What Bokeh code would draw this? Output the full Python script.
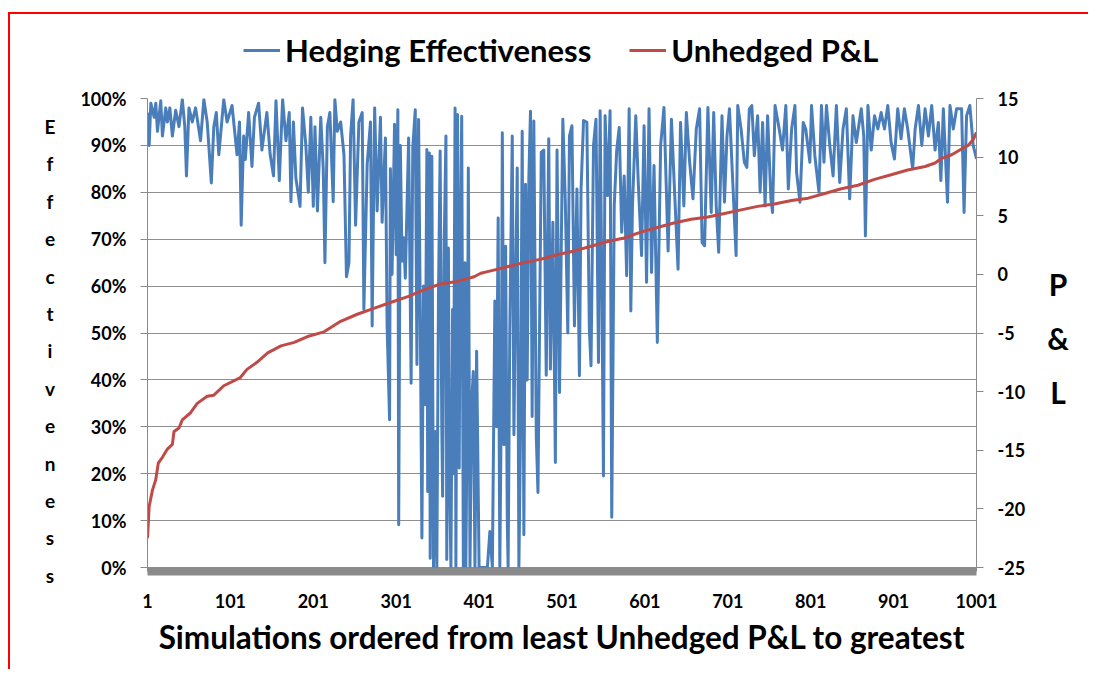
from bokeh.plotting import figure
from bokeh.layouts import row, column
from bokeh.models import (Range1d, LinearAxis, FixedTicker, NumeralTickFormatter,
                          Legend, LegendItem, Div)
from bokeh.embed import file_html
from bokeh.resources import INLINE

# ---------------- data ----------------
# Hedging effectiveness (%), sampled at the visible turning points, in three stretches
he_sim_a = [1, 3, 5, 9, 11, 13, 17, 19, 23, 25,
            28, 31, 35, 39, 43, 46, 48, 51, 55, 59,
            65, 69, 73, 78, 81, 84, 87, 93, 97, 103,
            109, 112, 114, 117, 119, 123, 127, 130, 135, 139,
            145, 149, 153, 156, 160, 164, 168, 172, 174, 177,
            180, 185, 188, 192, 195, 198, 201, 203, 206, 210,
            213, 215, 218, 221, 225, 227, 230, 234, 238, 241,
            244, 246, 249, 252, 256, 260, 262, 266, 270, 272,
            275, 278, 282, 284]
he_pct_a = [97, 90, 99, 96, 99, 93, 99.5, 92, 98, 95,
            98, 92, 97.5, 94, 99.8, 94, 83.5, 98, 95, 98,
            91, 99.8, 95, 82, 94, 97, 88, 99.8, 95, 98.5,
            88, 95, 73, 92, 87, 97, 85.5, 96, 99, 89,
            97, 88, 83.5, 99.5, 82.5, 99.8, 91, 97, 78, 95,
            83, 77, 98, 90, 80, 96, 77, 94, 76, 96,
            85, 65, 94, 97, 78, 99.8, 93, 95, 88, 62,
            65, 92, 99.8, 73, 95, 97, 55, 86, 95, 51.5,
            98, 76, 96, 73.6]

he_sim_b = [288, 290, 293, 294, 296, 299, 301, 303, 304, 306,
            308, 310, 312, 316, 319, 321, 324, 326, 328, 330,
            332, 334, 336, 338, 339, 341, 342, 344, 346, 348,
            350, 352, 354, 356, 357, 359, 361, 362, 364, 365,
            367, 369, 370, 372, 373, 375, 377, 378, 380, 382,
            384, 385, 387, 388, 390, 392, 394, 396, 398, 401,
            407, 411, 414, 417, 420, 422, 424, 426, 428, 429,
            431, 433, 435, 436, 438, 441, 443, 445, 447, 449,
            451, 453, 455, 457, 459, 461, 463, 465, 467, 470,
            472]
he_pct_b = [91.6, 51.8, 31.5, 85, 62.5, 94.5, 66.7, 97.6, 9.1, 90,
            65.3, 70.3, 61.7, 91.6, 39.3, 89.5, 97.6, 43.3, 95.5, 54.6,
            6.3, 60, 34.7, 89.1, 16.2, 88.4, 2, 87.7, 0, 29,
            0, 58.2, 88.8, 30, 15.2, 70, 92, 1.7, 68.1, 25,
            0, 55, 20, 98, 0, 96.6, 21.2, 60, 96.2, 0,
            65, 0, 40, 85.2, 0, 35, 41.8, 0, 46.1, 0,
            0, 0, 7.7, 0, 56.8, 30, 74.5, 0, 40, 92.7,
            26.2, 68.5, 10, 0, 50, 92, 28.3, 60, 85.2, 0,
            29.7, 93, 7, 81.7, 40, 83.1, 97.3, 32.2, 95.2, 28,
            16]

he_sim_c = [476, 479, 482, 485, 487,
            490, 493, 495, 498, 502, 505, 508, 510, 513, 516,
            519, 522, 524, 527, 531, 534, 536, 539, 542, 545,
            547, 549, 551, 553, 556, 559, 561, 564, 567, 570,
            573, 576, 579, 582, 584, 586, 590, 593, 597, 600,
            603, 606, 609, 612, 616, 620, 624, 629, 633, 637,
            641, 644, 648, 651, 655, 659, 663, 667, 670, 673,
            677, 681, 684, 687, 690, 694, 697, 700, 703, 707,
            711, 713, 717, 721, 724, 727, 730, 733, 737, 740,
            743, 746, 749, 753, 755, 758, 763, 767, 771, 774,
            778, 782, 784, 788, 792, 795, 800, 802, 806, 811,
            814, 817, 820, 824, 828, 832, 836, 840, 844, 848,
            852, 856, 862, 865, 867, 870, 874, 878, 882, 886,
            890, 894, 898, 902, 906, 910, 914, 918, 924, 927,
            931, 935, 939, 943, 947, 951, 955, 958, 961, 966,
            969, 973, 977, 983, 986, 989, 993, 997, 1001]
he_pct_c = [88.5, 89, 41, 91.4, 42.3,
            73.6, 22.4, 89, 37.3, 95.6, 77.9, 50, 92, 94.2, 51.5,
            80.7, 40.9, 80.7, 95.3, 94.9, 50.8, 43, 90, 95.6, 43.7,
            97.4, 60.8, 19.5, 96.3, 79.3, 97.4, 10.7, 77.1, 89, 93.8,
            71.5, 83.5, 62.2, 97.8, 54.7, 77.1, 96.3, 82.1, 66.5, 94.2,
            60.8, 97.8, 62.9, 85.7, 48, 90, 98.1, 67.5, 95.6, 79.3,
            63.6, 94.9, 77.1, 97, 86.4, 78.6, 93.5, 97.8, 69.3, 68.6,
            98.1, 75.7, 97, 77.1, 67.2, 96.3, 77.9, 92, 97.8, 82.1,
            66.5, 98.5, 93.5, 86.4, 85.3, 97.8, 98.5, 87.8, 96.3, 80,
            94.9, 77.1, 96.3, 78.6, 75.7, 98.5, 93.5, 89, 98.5, 80.7,
            93.5, 98.5, 84.2, 77.9, 94.9, 93.5, 86.4, 98.5, 87.8, 80,
            98.5, 86.4, 98.5, 90, 83.5, 98.5, 82.1, 93.5, 97.8, 78.6,
            96.3, 90.6, 97.8, 92, 70.7, 98.5, 89, 96.3, 93.5, 97,
            93.5, 98.5, 90.6, 87.1, 97.8, 91.4, 97.8, 93.5, 85, 93.5,
            98.5, 90, 97.8, 92, 98.5, 89, 94.9, 82.5, 97.8, 77.9,
            98.5, 93.5, 97.8, 97.8, 75.7, 96.3, 98.5, 90, 87.1]

# Unhedged P&L (sorted ascending)
pnl_sim = [1, 3, 7, 11, 14, 19, 25, 31, 33, 39,
           43, 53, 61, 73, 81, 93, 113, 121, 133, 146,
           162, 178, 194, 214, 234, 254, 274, 294, 315, 335,
           355, 375, 395, 403, 415, 435, 455, 476, 496, 516,
           536, 556, 576, 596, 616, 637, 657, 677, 697, 717,
           737, 757, 778, 798, 818, 838, 858, 878, 898, 918,
           939, 951, 959, 971, 983, 991, 997, 1001]
pnl_val = [-22.5, -19.8, -18.4, -17.5, -16.1, -15.6, -14.9, -14.5, -13.4, -13.1,
           -12.4, -11.8, -11.0, -10.4, -10.3, -9.5, -8.8, -8.1, -7.5, -6.7,
           -6.1, -5.8, -5.3, -4.9, -4.0, -3.4, -2.9, -2.4, -1.9, -1.3,
           -0.8, -0.6, -0.2, 0.1, 0.3, 0.65, 1.0, 1.3, 1.7, 2.0,
           2.4, 2.8, 3.1, 3.6, 4.0, 4.4, 4.7, 4.9, 5.2, 5.5,
           5.8, 6.0, 6.3, 6.5, 6.9, 7.3, 7.6, 8.1, 8.5, 8.9,
           9.2, 9.5, 9.9, 10.2, 10.7, 11.0, 11.5, 12.1]

x_ticks = [1, 101, 201, 301, 401, 501, 601, 701, 801, 901, 1001]
pct_ticks = [0.0, 0.1, 0.2, 0.3, 0.4, 0.5, 0.6, 0.7, 0.8, 0.9, 1.0]
pnl_ticks = [-25, -20, -15, -10, -5, 0, 5, 10, 15]

series_names = ["Hedging Effectiveness", "Unhedged P&L"]
left_title = "Effectiveness"
right_title = "P&L"
x_title = "Simulations ordered from least Unhedged P&L to greatest"

he_x, he_y = [], []
for xs, ys in ((he_sim_a, he_pct_a), (he_sim_b, he_pct_b), (he_sim_c, he_pct_c)):
    n = min(len(xs), len(ys))
    he_x += xs[:n]
    he_y += [v / 100.0 for v in ys[:n]]

# ---------------- styling ----------------
FONT = "Lato"
BLUE = "#4A7EBB"
RED = "#BE4B48"
GRID = "#8E8E8E"
AXIS = "#8A8A8A"
TOP_H = 72
MAIN_H = 583

# ---------------- main chart ----------------
p = figure(width=963, height=MAIN_H, output_backend="svg", toolbar_location=None,
           x_range=Range1d(1, 1001), y_range=Range1d(-0.0085, 1.0),
           min_border_left=75, min_border_right=59,
           min_border_top=12, min_border_bottom=98)
p.extra_y_ranges = {"pnl": Range1d(-25.34, 15)}
p.outline_line_color = None
p.background_fill_color = "white"
p.border_fill_color = "white"

p.xgrid.visible = False
p.ygrid.ticker = FixedTicker(ticks=pct_ticks)
p.ygrid.grid_line_color = GRID
p.ygrid.grid_line_width = 1

xa = p.xaxis[0]
xa.ticker = FixedTicker(ticks=x_ticks)
xa.axis_line_width = 8
xa.axis_line_color = AXIS
xa.major_tick_in = 0
xa.major_tick_out = 0
xa.minor_tick_line_color = None
xa.major_label_standoff = 22
xa.major_label_text_font = FONT
xa.major_label_text_font_style = "bold"
xa.major_label_text_font_size = "18px"
xa.major_label_text_color = "black"
xa.axis_label = x_title
xa.axis_label_text_font = FONT
xa.axis_label_text_font_style = "bold"
xa.axis_label_text_font_size = "31.5px"
xa.axis_label_text_color = "black"
xa.axis_label_standoff = 7

ya = p.yaxis[0]
ya.ticker = FixedTicker(ticks=pct_ticks)
ya.formatter = NumeralTickFormatter(format="0%")
ya.axis_line_color = AXIS
ya.major_tick_line_color = AXIS
ya.major_tick_in = 0
ya.major_tick_out = 7
ya.minor_tick_line_color = None
ya.major_label_standoff = 14
ya.major_label_text_font = FONT
ya.major_label_text_font_style = "bold"
ya.major_label_text_font_size = "18px"
ya.major_label_text_color = "black"

ra = LinearAxis(y_range_name="pnl", ticker=FixedTicker(ticks=pnl_ticks),
                formatter=NumeralTickFormatter(format="0"))
ra.axis_line_color = AXIS
ra.major_tick_line_color = AXIS
ra.major_tick_in = 0
ra.major_tick_out = 7
ra.minor_tick_line_color = None
ra.major_label_standoff = 14
ra.major_label_text_font = FONT
ra.major_label_text_font_style = "bold"
ra.major_label_text_font_size = "18px"
ra.major_label_text_color = "black"
p.add_layout(ra, "right")

p.line(x=he_x, y=he_y, line_color=BLUE, line_width=3, line_join="round")
p.line(x=pnl_sim, y=pnl_val, y_range_name="pnl", line_color=RED,
       line_width=3, line_join="round")

# ---------------- legend strip (top) ----------------
tf = figure(width=1078, height=TOP_H, output_backend="svg", toolbar_location=None,
            x_axis_type=None, y_axis_type=None, min_border=0,
            x_range=Range1d(0, 1078), y_range=Range1d(0, TOP_H))
tf.outline_line_color = None
tf.background_fill_color = "white"
tf.border_fill_color = "white"
# legend keys (drawn outside the visible strip; only their legend swatches show)
k_he = tf.line(x=[0, 1], y=[-50, -50], line_color=BLUE, line_width=3)
k_pnl = tf.line(x=[0, 1], y=[-50, -50], line_color=RED, line_width=3)
legend = Legend(items=[LegendItem(label=series_names[0], renderers=[k_he]),
                       LegendItem(label=series_names[1], renderers=[k_pnl])],
                location=(233, 17), orientation="horizontal")
legend.label_text_font = FONT
legend.label_text_font_style = "bold"
legend.label_text_font_size = "31px"
legend.label_text_color = "black"
legend.glyph_width = 37
legend.glyph_height = 30
legend.label_height = 30
legend.label_standoff = 5
legend.spacing = 38
legend.padding = 0
legend.margin = 0
legend.border_line_color = None
legend.background_fill_alpha = 0
tf.add_layout(legend)

# ---------------- stacked axis titles (HTML text) ----------------
left_html = ('<div style="width:80px;text-align:center;font-family:Lato;font-weight:bold;'
             'font-size:19px;line-height:37.4px;padding-top:22px;color:black;">'
             + "<br>".join(list(left_title)) + "</div>")
lf = Div(text=left_html, width=62, height=MAIN_H, styles={"margin": "0", "padding": "0"})

right_html = ('<div style="width:46px;text-align:center;font-family:Lato;font-weight:bold;'
              'font-size:30px;line-height:54px;padding-top:171px;color:black;">'
              + "<br>".join(list(right_title)) + "</div>")
rf = Div(text=right_html, width=53, height=MAIN_H, styles={"margin": "0", "padding": "0"})

layout = column(tf, row(lf, p, rf))
layout.styles = {"border-left": "2px solid #FF0000", "border-top": "2px solid #FF0000",
                 "margin-top": "12px", "margin-left": "8px"}

open("out.html", "w").write(file_html(layout, INLINE))
